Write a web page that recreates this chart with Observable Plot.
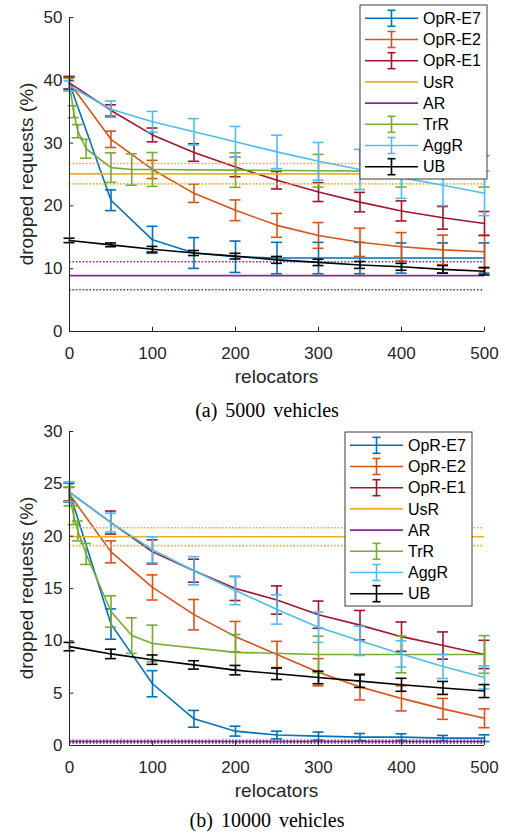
<!DOCTYPE html>
<html><head><meta charset="utf-8">
<script src="https://cdn.jsdelivr.net/npm/d3@7"></script>
<script src="https://cdn.jsdelivr.net/npm/@observablehq/plot@0.6"></script>
<style>
body{margin:0;background:#fff;}
#wrap{position:relative;width:505px;height:837px;overflow:hidden;background:#fff;}
.panel{position:absolute;left:0;z-index:1;}
.cap{position:absolute;left:0;width:534px;text-align:center;font-family:"Liberation Serif","Times New Roman",serif;font-size:20px;word-spacing:3px;color:#000;line-height:24px;z-index:2;}
</style></head><body><div id="wrap"></div>
<script>
// ---------- data ----------
const relocators = [0, 50, 100, 150, 200, 250, 300, 350, 400, 450, 500];
const trrRelocators = [0, 5, 10, 20, 50, 75, 100, 200, 300, 400, 500];
const xTicks = [0, 100, 200, 300, 400, 500];
const yTicksA = [0, 10, 20, 30, 40, 50];
const yTicksB = [0, 5, 10, 15, 20, 25, 30];
const seriesNames = ["OpR-E7", "OpR-E2", "OpR-E1", "UsR", "AR", "TrR", "AggR", "UB"];
const seriesColors = ["#0072BD", "#D95319", "#A2142F", "#EDB120", "#7E2F8E", "#77AC30", "#4DBEEE", "#000000"];

// (a) 5000 vehicles: mean and half-width of error bar
const e7A = [39.5, 20.9, 14.6, 12.5, 11.9, 11.7, 11.7, 11.7, 11.7, 11.7, 11.7];
const e7AErr = [1.0, 1.65, 2.15, 2.45, 2.5, 2.5, 2.5, 2.5, 2.4, 2.4, 2.4];
const e2A = [39.6, 30.6, 25.8, 22.0, 19.3, 16.9, 15.3, 14.2, 13.5, 13.0, 12.7];
const e2AErr = [1.0, 1.3, 1.45, 1.45, 1.65, 1.9, 2.05, 2.25, 2.25, 2.35, 2.6];
const e1A = [39.6, 35.2, 31.3, 28.5, 26.2, 24.1, 22.2, 20.6, 19.2, 18.1, 17.2];
const e1AErr = [1.0, 0.9, 1.1, 1.4, 1.55, 1.4, 1.5, 1.55, 1.6, 1.8, 1.9];
const usrA = [25.1, 23.5, 26.75];   // mean, low, high
const arA = [8.9, 6.65, 11.1];
const trrA = [39.3, 35.0, 31.9, 29.1, 26.1, 25.8, 25.8, 25.7, 25.6, 25.5, 25.5];
const trrAErr = [1.0, 0.95, 1.05, 1.5, 2.35, 2.5, 2.7, 2.75, 2.6, 2.5, 2.5];
const aggA = [39.1, 35.4, 33.4, 31.8, 30.2, 28.6, 27.1, 25.8, 24.5, 23.3, 22.0];
const aggAErr = [0.8, 1.3, 1.65, 2.1, 2.45, 2.65, 3.0, 3.2, 3.3, 3.25, 3.55];
const ubA = [14.5, 13.8, 13.1, 12.5, 12.0, 11.4, 11.0, 10.6, 10.3, 9.9, 9.6];
const ubAErr = [0.35, 0.3, 0.45, 0.4, 0.45, 0.55, 0.5, 0.55, 0.55, 0.6, 0.6];

// (b) 10000 vehicles
const e7B = [24.2, 11.6, 5.9, 2.55, 1.37, 1.0, 0.9, 0.8, 0.8, 0.7, 0.7];
const e7BErr = [0.95, 1.45, 1.25, 0.8, 0.47, 0.37, 0.38, 0.35, 0.32, 0.26, 0.32];
const e2B = [24.0, 18.5, 15.1, 12.5, 10.4, 8.7, 7.0, 5.6, 4.5, 3.5, 2.6];
const e2BErr = [0.65, 1.05, 1.2, 1.45, 1.45, 1.25, 1.3, 1.25, 1.2, 1.0, 0.9];
const e1B = [24.2, 21.3, 18.5, 16.7, 15.0, 13.9, 12.5, 11.5, 10.4, 9.55, 8.7];
const e1BErr = [0.85, 1.1, 1.15, 1.1, 1.15, 1.35, 1.3, 1.4, 1.4, 1.3, 1.35];
const usrB = [19.95, 19.1, 20.8];
const arB = [0.38, 0.25, 0.5];
const trrB = [23.8, 22.0, 20.5, 18.3, 12.8, 10.5, 9.75, 8.9, 8.7, 8.7, 8.7];
const trrBErr = [0.9, 0.9, 0.95, 1.0, 1.5, 1.7, 1.75, 1.7, 1.75, 1.75, 1.8];
const aggB = [24.2, 21.3, 18.7, 16.7, 14.8, 13.0, 11.3, 10.0, 8.75, 7.55, 6.5];
const aggBErr = [0.9, 0.9, 1.25, 1.35, 1.35, 1.4, 1.45, 1.4, 1.25, 1.15, 1.1];
const ubB = [9.45, 8.75, 8.2, 7.7, 7.2, 6.85, 6.5, 6.15, 5.8, 5.5, 5.2];
const ubBErr = [0.4, 0.45, 0.45, 0.4, 0.45, 0.55, 0.6, 0.6, 0.62, 0.62, 0.62];

// ---------- drawing ----------
const W = 505, H = 392, ML = 69, MR = 21, MT = 17, MB = 61;
const FW = W - ML - MR, FH = H - MT - MB;
const AX = "#262626";

function table(xs, ms, es) {
  return xs.map((x, i) => ({x, m: ms[i], lo: ms[i] - es[i], hi: ms[i] + es[i]}));
}

function panel(yMax, yTicks, series, legendX, legendY) {
  const marks = [];
  series.forEach((s) => {
    const c = s.color;
    if (s.kind === "const") {
      marks.push(Plot.ruleY([s.vals[0]], {y: d => d, stroke: c, strokeWidth: 1.6}));
      marks.push(Plot.ruleY([s.vals[1], s.vals[2]], {y: d => d, stroke: c, strokeWidth: 1.6, strokeDasharray: "1.6,1.8"}));
    } else {
      const d = s.data;
      marks.push(Plot.line(d, {x: "x", y: "m", stroke: c, strokeWidth: 1.6}));
      marks.push(Plot.ruleX(d, {x: "x", y1: "lo", y2: "hi", stroke: c, strokeWidth: 1.6}));
      marks.push(Plot.ruleY(d, {y: "hi", x1: "x", x2: "x", insetLeft: -5.5, insetRight: -5.5, stroke: c, strokeWidth: 1.6}));
      marks.push(Plot.ruleY(d, {y: "lo", x1: "x", x2: "x", insetLeft: -5.5, insetRight: -5.5, stroke: c, strokeWidth: 1.6}));
    }
  });
  const svg = Plot.plot({
    width: W, height: H,
    marginLeft: ML, marginRight: MR, marginTop: MT, marginBottom: MB,
    x: {domain: [0, 500]},
    y: {domain: [0, yMax]},
    style: {fontFamily: "'Liberation Sans', Arial, Helvetica, sans-serif", fontSize: "17px", color: AX, background: "transparent", overflow: "visible"},
    marks: [
      Plot.axisX({ticks: xTicks, tickSize: 0, tickPadding: 15, tickFormat: d => String(d), label: null, fill: AX}),
      Plot.axisY({ticks: yTicks, tickSize: 0, tickPadding: 7, tickFormat: d => String(d), label: null, fill: AX}),
      ...marks,
      Plot.tickX(xTicks, {x: d => d, insetTop: FH - 4.3, stroke: AX, strokeWidth: 1}),
      Plot.tickY(yTicks, {y: d => d, insetRight: FW - 4.3, stroke: AX, strokeWidth: 1}),
      Plot.ruleX([0], {x: d => d, stroke: AX, strokeWidth: 1}),
      Plot.ruleY([0], {y: d => d, stroke: AX, strokeWidth: 1})
    ]
  });
  const g = d3.select(svg);
  // axis titles
  g.append("text").attr("x", ML + FW / 2).attr("y", 383).attr("text-anchor", "middle")
    .attr("font-size", "19px").attr("fill", AX).text("relocators");
  g.append("text").attr("transform", `translate(33,${MT + FH / 2}) rotate(-90)`).attr("text-anchor", "middle")
    .attr("font-size", "19px").attr("fill", AX).text("dropped requests (%)");
  // legend
  const lg = g.append("g").attr("text-anchor", "start");
  lg.append("rect").attr("x", legendX).attr("y", legendY).attr("width", 127).attr("height", 174)
    .attr("fill", "white").attr("stroke", AX).attr("stroke-width", 0.9);
  series.forEach((s, i) => {
    const cy = legendY + 13.3 + i * 21.2;
    const x1 = legendX + 5, x2 = legendX + 58, xm = legendX + 31.5;
    lg.append("line").attr("x1", x1).attr("x2", x2).attr("y1", cy).attr("y2", cy).attr("stroke", s.color).attr("stroke-width", 1.6);
    if (s.kind !== "const") {
      lg.append("line").attr("x1", xm).attr("x2", xm).attr("y1", cy - 8).attr("y2", cy + 8).attr("stroke", s.color).attr("stroke-width", 1.6);
      lg.append("line").attr("x1", xm - 4).attr("x2", xm + 4).attr("y1", cy - 8).attr("y2", cy - 8).attr("stroke", s.color).attr("stroke-width", 1.6);
      lg.append("line").attr("x1", xm - 4).attr("x2", xm + 4).attr("y1", cy + 8).attr("y2", cy + 8).attr("stroke", s.color).attr("stroke-width", 1.6);
    }
    lg.append("text").attr("x", legendX + 63).attr("y", cy).attr("dy", "0.36em").attr("text-anchor", "start")
      .attr("font-size", "16px").attr("fill", "#000").text(s.name);
  });
  return svg;
}

function build(e7, e7e, e2, e2e, e1, e1e, usr, ar, trr, trre, agg, agge, ub, ube) {
  const d = [
    {kind: "eb", data: table(relocators, e7, e7e)},
    {kind: "eb", data: table(relocators, e2, e2e)},
    {kind: "eb", data: table(relocators, e1, e1e)},
    {kind: "const", vals: usr},
    {kind: "const", vals: ar},
    {kind: "eb", data: table(trrRelocators, trr, trre)},
    {kind: "eb", data: table(relocators, agg, agge)},
    {kind: "eb", data: table(relocators, ub, ube)}
  ];
  d.forEach((s, i) => { s.name = seriesNames[i]; s.color = seriesColors[i]; });
  return d;
}

const wrap = document.getElementById("wrap");
const sA = build(e7A, e7AErr, e2A, e2AErr, e1A, e1AErr, usrA, arA, trrA, trrAErr, aggA, aggAErr, ubA, ubAErr);
const sB = build(e7B, e7BErr, e2B, e2BErr, e1B, e1BErr, usrB, arB, trrB, trrBErr, aggB, aggBErr, ubB, ubBErr);

const pA = document.createElement("div"); pA.className = "panel"; pA.style.top = "0px";
pA.appendChild(panel(50, yTicksA, sA, 360, 5));
wrap.appendChild(pA);

const pB = document.createElement("div"); pB.className = "panel"; pB.style.top = "414px";
pB.appendChild(panel(30, yTicksB, sB, 345, 18));
wrap.appendChild(pB);

const cA = document.createElement("div"); cA.className = "cap"; cA.style.top = "398px"; cA.textContent = "(a) 5000 vehicles";
wrap.appendChild(cA);
const cB = document.createElement("div"); cB.className = "cap"; cB.style.top = "808px"; cB.textContent = "(b) 10000 vehicles";
wrap.appendChild(cB);
</script>
</body></html>
